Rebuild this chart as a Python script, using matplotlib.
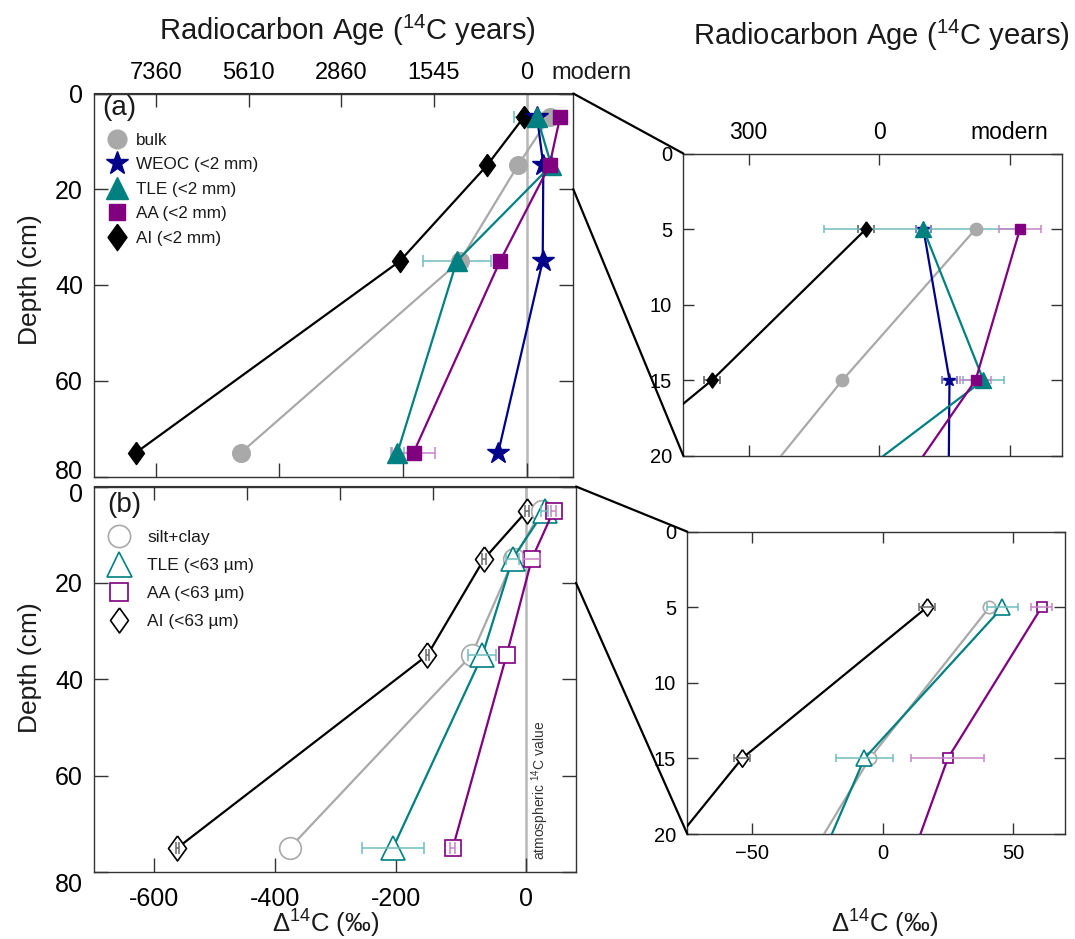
import numpy as np
import matplotlib
matplotlib.use("Agg")
import matplotlib.pyplot as plt
import matplotlib.transforms as mtransforms
from matplotlib.lines import Line2D
from matplotlib.patches import ConnectionPatch

plt.rcParams['font.family'] = ['Liberation Sans', 'DejaVu Sans']
plt.rcParams['mathtext.fontset'] = 'custom'
plt.rcParams['mathtext.rm'] = 'Liberation Sans'
plt.rcParams['mathtext.it'] = 'Liberation Sans:italic'
plt.rcParams['text.color'] = '#1a1a1a'

# ==========================
# Data (delta 14C, per mil)
# ==========================

depth = [5, 15, 35, 75]

# (a) <2 mm fractions
bulk = [37, -14, -108, -462]
weoc = [17, 27, 26, -46]
weoc_err = [3, 3, 0, 0]
tle_a = [17, 40, -113, -209]
tle_a_err = [38, 8, 55, 10]
aa_a = [54, 37, -43, -183]
aa_a_err = [8, 6, 10, 35]
ai_a = [-5, -64, -205, -632]
ai_a_err = [3, 3, 0, 0]

# (b) <63 um fractions
silt_clay = [41, -5, -75, -376]
tle_b = [46, -7, -57, -205]
tle_b_err = [6, 11, 23, 51]
aa_b = [61, 25, -17, -106]
aa_b_err = [4, 14, 0, 4]
ai_b = [17, -54, -148, -562]
ai_b_err = [3, 3, 3, 3]

age_ticks = [-600, -450, -300, -150, 0]
age_labels = ['7360', '5610', '2860', '1545', '0']
zoom_ticks = [-50, 0, 50]
zoom_age_labels = ['300', '0', 'modern']
atm_b = 16   # atmospheric line in panel (b)

# ==========================
# Styles
# ==========================

GRAY = '#a9a9a9'
NAVY = '#00008b'
TEAL = '#008080'
PURPLE = '#800080'
BLACK = '#000000'
FRAME = '#333333'
DIAMOND = [(0, 1), (0.72, 0), (0, -1), (-0.72, 0), (0, 1)]

W, H = 1075, 939


def box(x0, y0, x1, y1):
    return [x0 / W, 1 - y1 / H, (x1 - x0) / W, (y1 - y0) / H]


def add_err(ax, x, err, color, z, cap):
    xs = [v for v, e in zip(x, err) if e > 0]
    ds = [d for d, e in zip(depth, err) if e > 0]
    es = [e for e in err if e > 0]
    if xs:
        ax.errorbar(xs, ds, xerr=es, fmt='none', ecolor=color, elinewidth=1.1,
                    capsize=cap, capthick=1.1, zorder=z)


def draw(ax, series, big, filled):
    for x, err, color, ecolor, marker, ms_big, ms_small in series:
        ms = ms_big if big else ms_small
        face = color if filled else 'white'
        ax.plot(x, depth, color=color, lw=1.6, marker=marker, ms=ms,
                mfc=face, mec=color, mew=1.0 if filled else 1.2, zorder=3)
        if err is not None:
            add_err(ax, x, err, ecolor, 2 if filled else 4, 4 if big else 3)


def style(ax, tick_len, size):
    for s in ax.spines.values():
        s.set_color(FRAME)
        s.set_linewidth(1.0)
    ax.tick_params(direction='in', length=tick_len, width=1, color=FRAME,
                   labelsize=size, right=True, top=False, pad=8)


def nudge(label, dy_px):
    label.set_transform(label.get_transform() +
                        mtransforms.ScaledTranslation(0, -dy_px / 100, fig.dpi_scale_trans))


fig = plt.figure(figsize=(10.75, 9.39), dpi=100)

ax_a = fig.add_axes(box(94, 93.5, 573.3, 476.5))
ax_b = fig.add_axes(box(94, 486.5, 576, 872))
zx_a = fig.add_axes(box(683.3, 153.5, 1061.7, 455.7))
zx_b = fig.add_axes(box(687.3, 531.7, 1065, 834))

series_a = [
    (ai_a, ai_a_err, BLACK, '#555555', DIAMOND, 16, 11),
    (bulk, None, GRAY, GRAY, 'o', 12.7, 8.9),
    (weoc, weoc_err, NAVY, '#5c5cb8', '*', 16.5, 9.5),
    (tle_a, tle_a_err, TEAL, '#70bcbc', '^', 14.5, 11),
    (aa_a, aa_a_err, PURPLE, '#c585c5', 's', 10, 7.2),
]

series_b = [
    (ai_b, ai_b_err, BLACK, '#6a6a6a', DIAMOND, 18, 12.5),
    (silt_clay, None, GRAY, GRAY, 'o', 15.6, 8.9),
    (tle_b, tle_b_err, TEAL, '#70bcbc', '^', 17.5, 11.3),
    (aa_b, aa_b_err, PURPLE, '#c585c5', 's', 12, 7.2),
]

# ==========================
# Panel (a)
# ==========================

ax_a.axvline(0, color='#b8b8b8', lw=1.8, zorder=1)
draw(ax_a, series_a, True, True)
ax_a.set_xlim(-700, 75.5)
ax_a.set_ylim(80, 0)
ax_a.set_xticks([-600, -400, -200, 0])
ax_a.set_yticks([0, 20, 40, 60, 80])
style(ax_a, 10, 18)
ax_a.tick_params(axis='x', labelbottom=False)
sec_a = ax_a.secondary_xaxis('top')
sec_a.set_xticks(age_ticks, labels=age_labels)
sec_a.tick_params(direction='in', length=10, width=1, color=FRAME, labelsize=17, pad=7)
sec_a.spines['top'].set_color(FRAME)
ax_a.text(1.039, 1.0254, 'modern', transform=ax_a.transAxes, ha='center',
          va='bottom', fontsize=17)
ax_a.text(0.017, 0.995, '(a)', transform=ax_a.transAxes, ha='left', va='top',
          fontsize=20)

handles_a = [
    Line2D([], [], ls='none', marker='o', ms=13.5, mfc=GRAY, mec=GRAY),
    Line2D([], [], ls='none', marker='*', ms=17, mfc=NAVY, mec=NAVY),
    Line2D([], [], ls='none', marker='^', ms=16, mfc=TEAL, mec=TEAL),
    Line2D([], [], ls='none', marker='s', ms=11, mfc=PURPLE, mec=PURPLE),
    Line2D([], [], ls='none', marker=DIAMOND, ms=19, mfc=BLACK, mec=BLACK),
]
labels_a = ['bulk', 'WEOC (<2 mm)', 'TLE (<2 mm)', 'AA (<2 mm)', 'AI (<2 mm)']
ax_a.legend(handles_a, labels_a, loc='upper left', bbox_to_anchor=(0.026, 0.898),
            frameon=False, fontsize=12.3, labelspacing=0.56, handlelength=1.2,
            handletextpad=0.5, borderaxespad=0, borderpad=0)

# ==========================
# Panel (b)
# ==========================

ax_b.axvline(atm_b, color='#b8b8b8', lw=1.8, zorder=1)
draw(ax_b, series_b, True, False)
ax_b.set_xlim(-700, 98)
ax_b.set_ylim(80, 0)
ax_b.set_xticks([-600, -400, -200, atm_b], labels=['-600', '-400', '-200', '0'])
ax_b.set_yticks([0, 20, 40, 60, 80])
style(ax_b, 10, 18)
ax_b.tick_params(axis='x', pad=11)
sec_b = ax_b.secondary_xaxis('top')
sec_b.set_xticks(np.linspace(-600, atm_b, 5), labels=[])
sec_b.tick_params(direction='in', length=10, width=1, color=FRAME)
sec_b.spines['top'].set_color(FRAME)
ax_b.text(0.027, 0.985, '(b)', transform=ax_b.transAxes, ha='left', va='top',
          fontsize=20)
ax_b.text(atm_b + 22, 77.5, 'atmospheric $^{14}$C value', rotation=90,
          ha='center', va='bottom', fontsize=10, color='#333333')

handles_b = [
    Line2D([], [], ls='none', marker='o', ms=16, mfc='white', mec=GRAY, mew=1.2),
    Line2D([], [], ls='none', marker='^', ms=18, mfc='white', mec=TEAL, mew=1.2),
    Line2D([], [], ls='none', marker='s', ms=13, mfc='white', mec=PURPLE, mew=1.2),
    Line2D([], [], ls='none', marker=DIAMOND, ms=18, mfc='white', mec=BLACK, mew=1.2),
]
labels_b = ['silt+clay', 'TLE (<63 \u00b5m)', 'AA (<63 \u00b5m)', 'AI (<63 \u00b5m)']
ax_b.legend(handles_b, labels_b, loc='upper left', bbox_to_anchor=(0.028, 0.887),
            frameon=False, fontsize=12.5, labelspacing=0.74, handlelength=1.3,
            handletextpad=1.0, borderaxespad=0, borderpad=0)

# keep the 80 / 0 labels at the panel joint apart, as in the original
nudge(ax_a.get_yaxis().get_major_ticks()[-1].label1, -7)
nudge(ax_b.get_yaxis().get_major_ticks()[0].label1, 6)
nudge(ax_b.get_yaxis().get_major_ticks()[-1].label1, 11)

# ==========================
# Zoom panels (0-20 cm)
# ==========================

for zx, series, filled in [(zx_a, series_a, True), (zx_b, series_b, False)]:
    draw(zx, series, False, filled)
    zx.set_xlim(-75, 70)
    zx.set_ylim(20, 0)
    zx.set_yticks([0, 5, 10, 15, 20])
    style(zx, 8, 14.5)
    zx.tick_params(axis='x', top=True)

zx_a.set_xticks(zoom_ticks, labels=zoom_age_labels)
zx_a.tick_params(axis='x', labeltop=True, labelbottom=False, labelsize=16.5, pad=7)
zx_b.set_xticks(zoom_ticks)
zx_b.tick_params(axis='x', pad=7)

# connectors
for big_ax, small_ax in [(ax_a, zx_a), (ax_b, zx_b)]:
    for ya, yb in [(1, 1), (0.75, 0)]:
        con = ConnectionPatch(xyA=(1, ya), coordsA=big_ax.transAxes,
                              xyB=(0, yb), coordsB=small_ax.transAxes,
                              color='black', lw=1.6)
        fig.add_artist(con)

# ==========================
# Titles and axis labels
# ==========================

fig.text(347 / W, 1 - 30 / H, 'Radiocarbon Age ($^{14}$C years)', ha='center',
         va='center', fontsize=21)
fig.text(881 / W, 1 - 35 / H, 'Radiocarbon Age ($^{14}$C years)', ha='center',
         va='center', fontsize=21)
fig.text(326 / W, 1 - 924 / H, '\u0394$^{14}$C (\u2030)', ha='center',
         va='center', fontsize=18.5)
fig.text(885 / W, 1 - 924 / H, '\u0394$^{14}$C (\u2030)', ha='center',
         va='center', fontsize=18.5)
fig.text(30 / W, 1 - 280 / H, 'Depth (cm)', rotation=90, ha='center',
         va='center', fontsize=19)
fig.text(30 / W, 1 - 668 / H, 'Depth (cm)', rotation=90, ha='center',
         va='center', fontsize=19)

fig.savefig('out.png', dpi=100)
